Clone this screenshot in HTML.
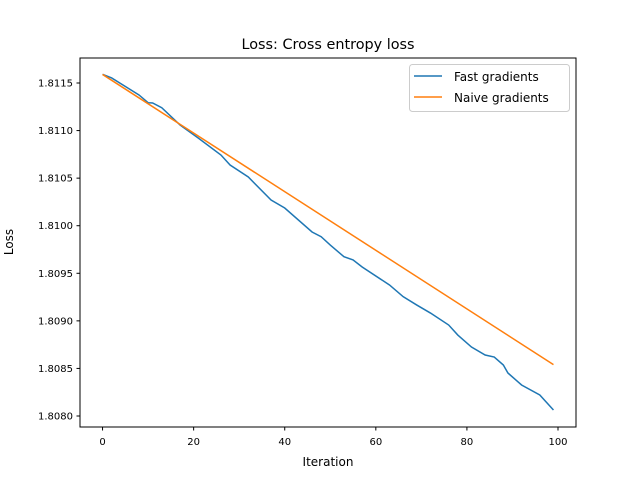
<!DOCTYPE html>
<html><head><meta charset="utf-8"><style>
body{margin:0;background:#fff}
svg{font-family:"DejaVu Sans","Liberation Sans",sans-serif}
</style></head><body>
<svg id="chart" width="640" height="480" xmlns="http://www.w3.org/2000/svg">
<rect width="640" height="480" fill="#fff"/>
<text x="328" y="49" font-size="14.4" text-anchor="middle">Loss: Cross entropy loss</text>
<text x="328" y="466" font-size="12" text-anchor="middle">Iteration</text>
<text transform="translate(13,242) rotate(-90)" font-size="12" text-anchor="middle">Loss</text>
<g id="plot"></g>
<rect x="80" y="58" width="496" height="369" fill="none" stroke="#000" stroke-width="1"/>
<g>
<rect x="409.5" y="64.5" width="160" height="47" rx="3" fill="#fff" stroke="#ccc"/>
<line x1="414" y1="76" x2="442" y2="76" stroke="#1f77b4" stroke-width="1.5"/>
<text x="454" y="81" font-size="12">Fast gradients</text>
<line x1="414" y1="97" x2="442" y2="97" stroke="#ff7f0e" stroke-width="1.5"/>
<text x="454" y="102" font-size="12">Naive gradients</text>
</g>
</svg>
<script>
const fastIters=[0,2,8,10,11,13,17,21,26,28,32,37,40,46,48,50,53,55,57,63,66,69,72,76,78,81,84,86,88,89,92,96,99];
const fastLoss=[1.811591,1.811553,1.811374,1.811293,1.811290,1.811240,1.811059,1.810922,1.810743,1.810638,1.810512,1.810270,1.810186,1.809934,1.809884,1.809797,1.809674,1.809640,1.809566,1.809377,1.809254,1.809166,1.809082,1.808956,1.808851,1.808725,1.808641,1.808620,1.808536,1.808452,1.808326,1.808221,1.808063];
const naiveIters=[0,99];
const naiveLoss=[1.811590,1.808540];
const xTicks=[0,20,40,60,80,100];
const yTicks=[1.8080,1.8085,1.8090,1.8095,1.8100,1.8105,1.8110,1.8115];
const NS="http://www.w3.org/2000/svg";
const xs=v=>80+(v+4.95)*496/108.9;
const ys=v=>83+(1.8115-v)*95143;
const g=document.getElementById('plot');
function mk(t,a){const e=document.createElementNS(NS,t);for(const k in a)e.setAttribute(k,a[k]);g.appendChild(e);return e;}
xTicks.forEach(t=>{
  const l=mk('line',{x1:xs(t),x2:xs(t),y1:427,y2:430.5,stroke:'#000'});
  
  
  const tx=mk('text',{x:xs(t),y:445,'font-size':10,'text-anchor':'middle'});tx.textContent=t;
  
  
});
yTicks.forEach(t=>{
  const l=mk('line',{x1:76.5,x2:80,y1:ys(t),y2:ys(t),stroke:'#000'});
  
  
  const tx=mk('text',{x:73,y:ys(t)+3.5,'font-size':10,'text-anchor':'end'});tx.textContent=t.toFixed(4);
  
  
});
function line(xa,ya,c,name){
  const p=mk('polyline',{points:xa.map((x,i)=>xs(x)+','+ys(ya[i])).join(' '),fill:'none',stroke:c,'stroke-width':1.5});
  
  
}
line(fastIters,fastLoss,'#1f77b4','fast-gradients-line');
line(naiveIters,naiveLoss,'#ff7f0e','naive-gradients-line');
</script>
</body></html>
